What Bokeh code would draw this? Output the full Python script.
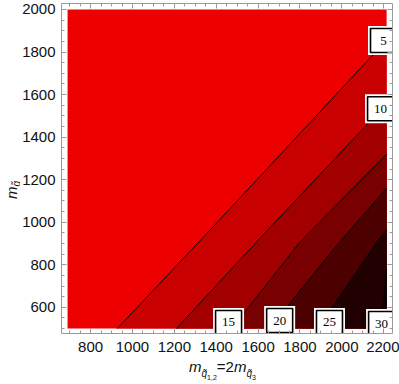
from bokeh.plotting import figure
from bokeh.models import Range1d, LinearAxis, SingleIntervalTicker, CustomJSTickFormatter, Div
from bokeh.layouts import row, column
from bokeh.core.properties import value
from bokeh.embed import file_html
from bokeh.resources import INLINE

# ---------------- data ----------------
x_min, x_max = 690, 2214          # plotted domain of m_q
y_min, y_max = 500, 2000          # plotted domain of m_gluino

levels = [5, 10, 15, 20, 25, 30]
# contour lines: points from the bottom edge up to the right edge
c5_x = [927, 1325, 1722, 2214]
c5_y = [500, 915, 1335, 1856]
c10_x = [1210, 1600, 2047, 2214]
c10_y = [500, 915, 1382, 1558]
c15_x = [1460, 1531, 1803, 2214]
c15_y = [500, 571, 910, 1320]
c20_x = [1703, 1731, 1975, 2214]
c20_y = [500, 594, 890, 1160]
c25_x = [1942, 1950, 2170, 2214]
c25_y = [500, 594, 910, 965]
c30_x = [2190, 2195, 2214]
c30_y = [500, 594, 780]
contour_x = [c5_x, c10_x, c15_x, c20_x, c25_x, c30_x]
contour_y = [c5_y, c10_y, c15_y, c20_y, c25_y, c30_y]

band_colors = ["#ec0000", "#c80000", "#a20000", "#780000", "#4c0000", "#200000", "#080000"]

label_text = ["5", "10", "15", "20", "25", "30"]
label_x = [2199, 2185, 1459, 1703, 1941, 2190]
label_y = [1854, 1533, 529, 538, 529, 524]

x_ticks_interval = 200
y_ticks_interval = 200

# ---------------- figure ----------------
p = figure(frame_width=331, frame_height=330,
           x_range=Range1d(661, 2242), y_range=Range1d(477, 2028),
           output_backend="svg", toolbar_location=None,
           min_border_left=40, min_border_right=7, min_border_top=3, min_border_bottom=26)
p.outline_line_color = None
p.grid.visible = False
p.background_fill_color = "white"

# bands
p.quad(left=[x_min], right=[x_max], bottom=[y_min], top=[y_max],
       fill_color=band_colors[0], line_color=None)
for k in range(len(levels)):
    xs = contour_x[k] + [x_max]
    ys = contour_y[k] + [y_min]
    p.patch(xs, ys, fill_color=band_colors[k + 1], line_color=None)

p.multi_line(contour_x, contour_y, line_color="black", line_width=0.9)

# contour labels
p.rect(label_x, label_y, width=31, height=29, width_units="screen", height_units="screen",
       fill_color="white", line_color=None)
p.rect(label_x, label_y, width=26, height=24, width_units="screen", height_units="screen",
       fill_color="white", line_color="black", line_width=1.6)
p.text(label_x, label_y, text=label_text, text_align="center", text_baseline="middle",
       text_font=value("Liberation Serif"), text_font_size="13px", text_color="black")

# axes styling
frame_col = "#9a9a9a"
def style_axis(ax):
    ax.axis_line_color = frame_col
    ax.major_tick_line_color = frame_col
    ax.minor_tick_line_color = frame_col
    ax.major_tick_in = 5
    ax.major_tick_out = 0
    ax.minor_tick_in = 3
    ax.minor_tick_out = 0
    ax.major_label_text_font = "Liberation Sans"
    ax.major_label_text_font_size = "15px"
    ax.major_label_text_color = "#111111"

for ax in p.xaxis:
    ax.ticker = SingleIntervalTicker(interval=x_ticks_interval, num_minor_ticks=4)
    style_axis(ax)
    ax.major_label_standoff = 8
for ax in p.yaxis:
    ax.ticker = SingleIntervalTicker(interval=y_ticks_interval, num_minor_ticks=4)
    style_axis(ax)
    ax.major_label_standoff = 6

blank = CustomJSTickFormatter(code="return ''")
top = LinearAxis(ticker=SingleIntervalTicker(interval=x_ticks_interval, num_minor_ticks=4),
                 formatter=blank, major_label_standoff=0)
right = LinearAxis(ticker=SingleIntervalTicker(interval=y_ticks_interval, num_minor_ticks=4),
                   formatter=blank, major_label_standoff=0)
style_axis(top)
style_axis(right)
p.add_layout(top, "above")
p.add_layout(right, "right")

# ---------------- axis titles (HTML text with subscripts) ----------------
base = "font-family:'Liberation Sans';font-size:15px;line-height:15px;white-space:nowrap;color:#111111;"
sub1 = "font-size:10px;vertical-align:-5px;"
sub2 = "font-size:7px;vertical-align:-3px;font-style:normal;"

x_title = ('<div style="' + base + 'position:relative;left:165px;top:-5px;">'
           '<i>m</i><span style="' + sub1 + '"><i>q\u0303</i><span style="' + sub2 + '">1,2</span></span>'
           '=2<i>m</i><span style="' + sub1 + '"><i>q\u0303</i><span style="' + sub2 + '">3</span></span>'
           '</div>')
y_title = ('<div style="' + base + 'width:max-content;transform-origin:0 0;'
           'transform:translate(-1px,194px) rotate(-90deg);">'
           '<i>m</i><span style="font-size:10px;vertical-align:-2.5px;"><i>g\u0303</i></span>'
           '</div>')

xdiv = Div(text=x_title, width=378, height=20)
ydiv = Div(text=y_title, width=9, height=356)

layout = row(ydiv, column(p, xdiv, spacing=0), spacing=0)
open("out.html", "w").write(file_html(layout, INLINE))
